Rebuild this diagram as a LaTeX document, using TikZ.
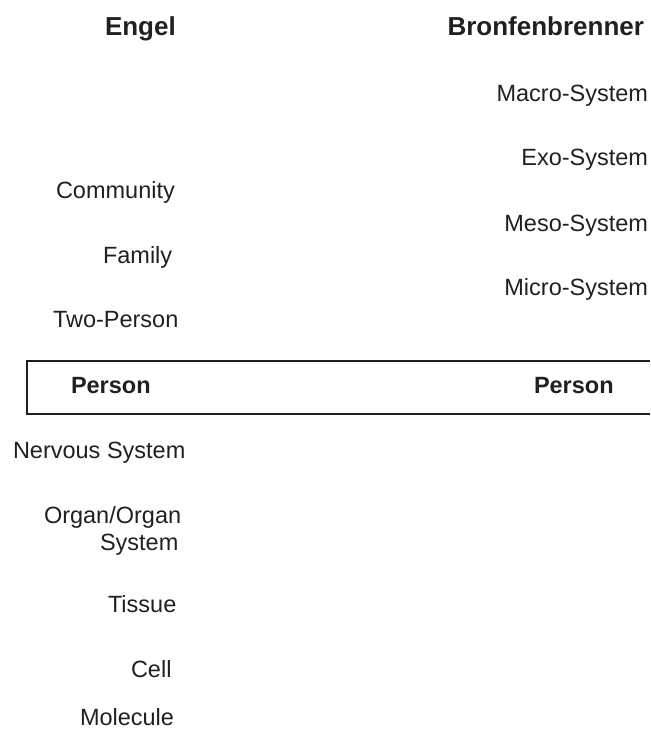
\documentclass[tikz,border=0pt]{standalone}
\usepackage{fontspec}
\setmainfont{Liberation Sans}
\definecolor{ink}{HTML}{231F20}
\begin{document}
\begin{tikzpicture}[x=1pt,y=-1pt,
  lbl/.style={inner sep=0pt,outer sep=0pt,text=ink,font=\fontsize{23.5}{27}\selectfont},
  head/.style={inner sep=0pt,outer sep=0pt,text=ink,font=\fontsize{26}{30}\selectfont\bfseries},
  pers/.style={inner sep=0pt,outer sep=0pt,text=ink,font=\fontsize{23.5}{27}\selectfont\bfseries},
  framebox/.style={draw=ink,line width=1.3pt}]
\useasboundingbox (0,0) rectangle (650,730);
% headings
\node[head,anchor=base west] (engel) at (105,36) {Engel};
\node[head,anchor=base east] (bronf) at (644,36) {Bronfenbrenner};
% Bronfenbrenner levels
\node[lbl,anchor=base east] (macro) at (648,102) {Macro-System};
\node[lbl,anchor=base east] (exo) at (648,166) {Exo-System};
\node[lbl,anchor=base east] (meso) at (648,231) {Meso-System};
\node[lbl,anchor=base east] (micro) at (648,295) {Micro-System};
% Engel levels above person
\node[lbl,anchor=base west] (community) at (56,198) {Community};
\node[lbl,anchor=base west] (family) at (103,263) {Family};
\node[lbl,anchor=base west] (twoperson) at (53,327) {Two-Person};
% person box
\coordinate (boxtl) at (650,361);
\coordinate (boxbr) at (650,414);
\draw[framebox] (boxtl) -| (27,414) -- (boxbr);
\node[pers,anchor=base west] (personl) at (71,393) {Person};
\node[pers,anchor=base west] (personr) at (534,393) {Person};
% Engel levels below person
\node[lbl,anchor=base west] (nervous) at (13,458) {Nervous System};
\node[lbl,anchor=base west] (organ) at (44,523) {Organ/Organ};
\node[lbl,anchor=base west] (organsys) at (100,550) {System};
\node[lbl,anchor=base west] (tissue) at (108,612) {Tissue};
\node[lbl,anchor=base west] (cell) at (131,677) {Cell};
\node[lbl,anchor=base west] (molecule) at (80,725) {Molecule};
\end{tikzpicture}
\end{document}
